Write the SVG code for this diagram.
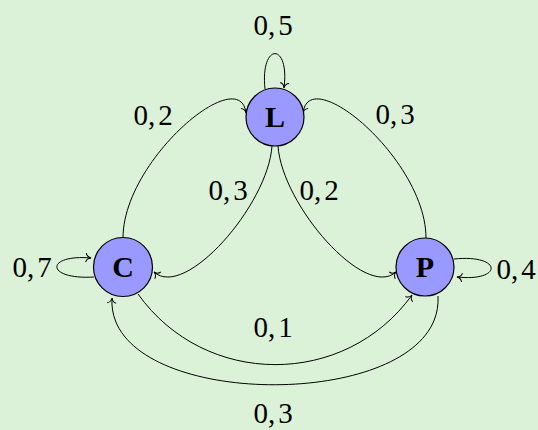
<svg xmlns="http://www.w3.org/2000/svg" width="538" height="430" viewBox="0 0 538 430">
<style>
.node circle{fill:#9999ff;stroke:#000;stroke-width:1.2}
.node text{font-family:"Liberation Serif","Times New Roman",serif;font-weight:bold;font-size:30px;text-anchor:middle;fill:#000}
.edge{fill:none;stroke:#000;stroke-width:1;marker-end:url(#arr)}
.lbl{font-family:"Liberation Serif","Times New Roman",serif;font-size:29px;text-anchor:middle;fill:#000}
</style>
<defs>
<marker id="arr" markerUnits="userSpaceOnUse" viewBox="-7 -6 9 12" refX="0" refY="0" markerWidth="9" markerHeight="12" orient="auto">
<path d="M-5,-4.5 C-4.5,-1.6 -1.6,-0.3 0,0 C-1.6,0.3 -4.5,1.6 -5,4.5" fill="none" stroke="#000" stroke-width="1"/>
</marker>
</defs>
<rect width="538" height="430" fill="#dcf2d8"/>
<g id="connectors">
<path class="edge" d="M265,89 C260,42 290,42 284,88"/>
<path class="edge" d="M94,277 C45,280 45,254 91,258"/>
<path class="edge" d="M454,259 C503,254 503,282 457,277"/>
<path class="edge" d="M123,238 C123,160 240,62 246,113"/>
<path class="edge" d="M426,238 C426,160 309,62 303,113"/>
<path class="edge" d="M272,146 C268,205 185,300 154,272"/>
<path class="edge" d="M278,146 C282,205 365,300 396,272"/>
<path class="edge" d="M138,294 C205,388 345,388 412,295"/>
<path class="edge" d="M438,296 C445,414 105,414 112,298"/>
</g>
<g id="labels">
<text class="lbl" x="273" y="35">0,<tspan dx="3">5</tspan></text>
<text class="lbl" x="153" y="125">0,<tspan dx="3">2</tspan></text>
<text class="lbl" x="395" y="124">0,<tspan dx="3">3</tspan></text>
<text class="lbl" x="228" y="200">0,<tspan dx="3">3</tspan></text>
<text class="lbl" x="319" y="200">0,<tspan dx="3">2</tspan></text>
<text class="lbl" x="32" y="277">0,<tspan dx="3">7</tspan></text>
<text class="lbl" x="516" y="279">0,<tspan dx="3">4</tspan></text>
<text class="lbl" x="273" y="337">0,<tspan dx="3">1</tspan></text>
<text class="lbl" x="273" y="423">0,<tspan dx="3">3</tspan></text>
</g>
<g id="node-L" class="node"><circle cx="275" cy="117" r="29"/><text x="275" y="127">L</text></g>
<g id="node-C" class="node"><circle cx="123" cy="267" r="29.5"/><text x="123" y="277">C</text></g>
<g id="node-P" class="node"><circle cx="425" cy="267" r="29"/><text x="425" y="277">P</text></g>
</svg>
